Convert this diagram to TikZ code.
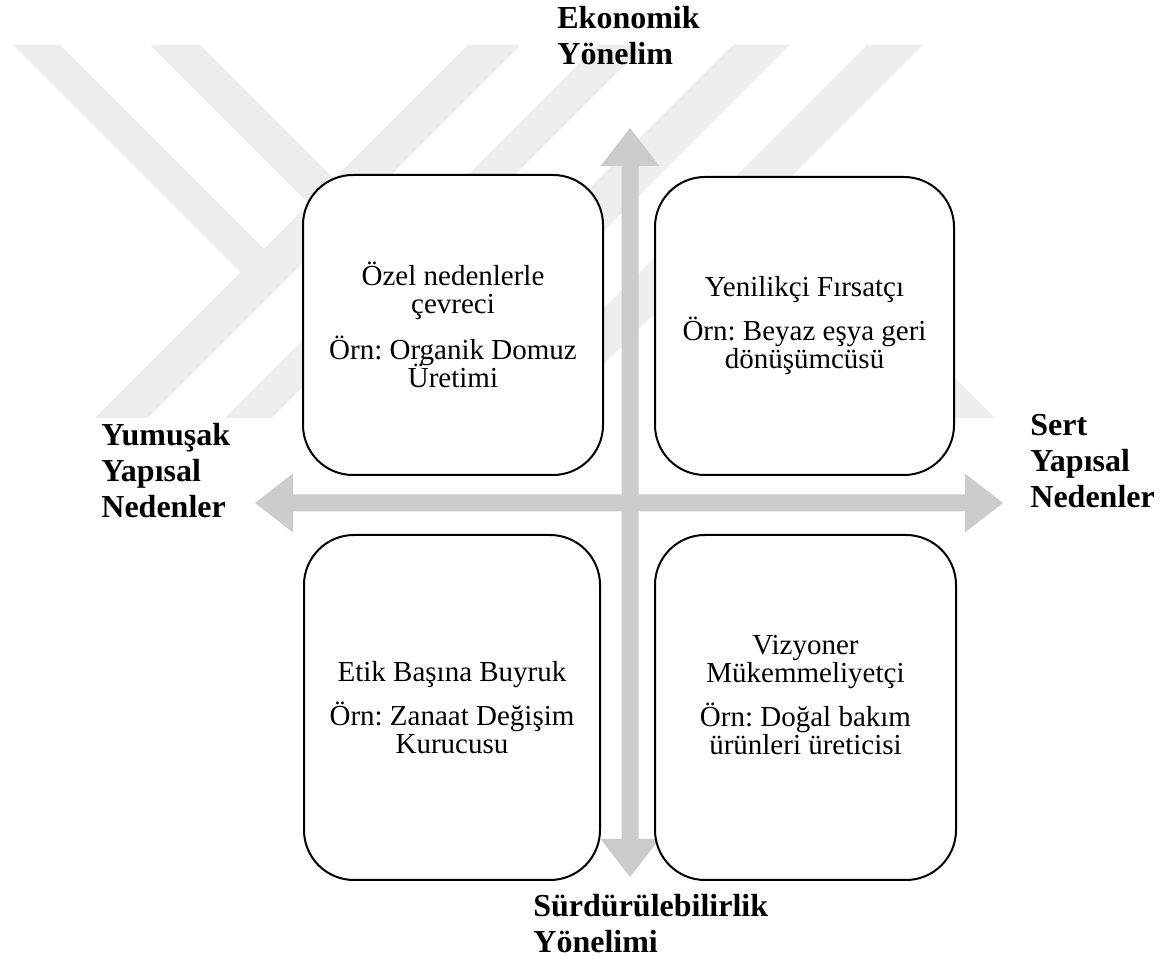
\documentclass[tikz,border=0pt]{standalone}
\usepackage{fontspec}
\setmainfont{Liberation Serif}
\definecolor{arrowgray}{RGB}{204,204,204}
\definecolor{wmgray}{RGB}{238,238,238}
\newcommand{\tightlines}{\lineskiplimit=-20pt\relax\frenchspacing}
\begin{document}
\frenchspacing
\begin{tikzpicture}[x=0.5pt,y=-0.5pt,
  wm/.style={fill=wmgray,draw=none},
  axisarrow/.style={fill=arrowgray,draw=none},
  quad/.style={draw=black,line width=1pt,rounded corners=25pt,fill=white,inner sep=0pt},
  quadtext/.style={align=center,inner sep=0pt,
    font={\fontsize{14.5}{14}\selectfont\tightlines}},
  lab/.style={font=\bfseries\fontsize{16}{18}\selectfont,anchor=base west,inner sep=0pt}]
\useasboundingbox (0,0) rectangle (1175,962);
% faint background watermark
\fill[wm] (13,45) -- (60,45) -- (276.5,261.5) -- (253,285) -- cycle;
\fill[wm] (468,45) -- (521,45) -- (148,418) -- (95,418) -- cycle;
\fill[wm] (150,45) -- (200,45) -- (410,255) -- (385,280) -- cycle;
\fill[wm] (598,45) -- (645,45) -- (272,418) -- (225,418) -- cycle;
\fill[wm] (733,45) -- (790,45) -- (417,418) -- (360,418) -- cycle;
\fill[wm] (867,45) -- (923,45) -- (550,418) -- (494,418) -- cycle;
\fill[wm] (730,210) -- (758.5,181.5) -- (995,418) -- (938,418) -- cycle;
% axes
\fill[axisarrow] (255,503) -- (293,473.5) -- (293,494.5) -- (965,494.5) -- (965,473.5)
  -- (1003,503) -- (965,532.5) -- (965,511.5) -- (293,511.5) -- (293,532.5) -- cycle;
\fill[axisarrow] (630,128) -- (659.5,166) -- (638.5,166) -- (638.5,839) -- (659.5,839)
  -- (630,877) -- (600.5,839) -- (621.5,839) -- (621.5,166) -- (600.5,166) -- cycle;
% quadrant boxes
\node[quad,minimum width=150pt,minimum height=150pt] (ozel) at (453,325) {};
\node[quad,minimum width=149.5pt,minimum height=149pt] (yenilikci) at (804.5,326) {};
\node[quad,minimum width=148pt,minimum height=172.5pt] (etik) at (452,707.5) {};
\node[quad,minimum width=150.5pt,minimum height=172.5pt] (vizyoner) at (805.5,707.5) {};
\node[quadtext] (ozeltext) at (ozel.center)
  {Özel nedenlerle\\çevreci\\[9pt]Örn: Organik Domuz\\Üretimi};
\node[quadtext] (yenilikcitext) at (yenilikci.center)
  {Yenilikçi Fırsatçı\\[8pt]Örn: Beyaz eşya geri\\dönüşümcüsü};
\node[quadtext] (etiktext) at (etik.center)
  {Etik Başına Buyruk\\[8pt]Örn: Zanaat Değişim\\Kurucusu};
\node[quadtext] (vizyonertext) at ([yshift=6pt]vizyoner.center)
  {Vizyoner\\Mükemmeliyetçi\\[8pt]Örn: Doğal bakım\\ürünleri üreticisi};
% axis labels
\node[lab] (ekonomik) at (557,29) {\begin{tabular}[t]{@{}l@{}}Ekonomik\\Yönelim\end{tabular}};
\node[lab] (surdur) at (533,917) {\begin{tabular}[t]{@{}l@{}}Sürdürülebilirlik\\Yönelimi\end{tabular}};
\node[lab] (yumusak) at (101,446) {\begin{tabular}[t]{@{}l@{}}Yumuşak\\Yapısal\\Nedenler\end{tabular}};
\node[lab] (sert) at (1030,436) {\begin{tabular}[t]{@{}l@{}}Sert\\Yapısal\\Nedenler\end{tabular}};
\end{tikzpicture}
\end{document}
